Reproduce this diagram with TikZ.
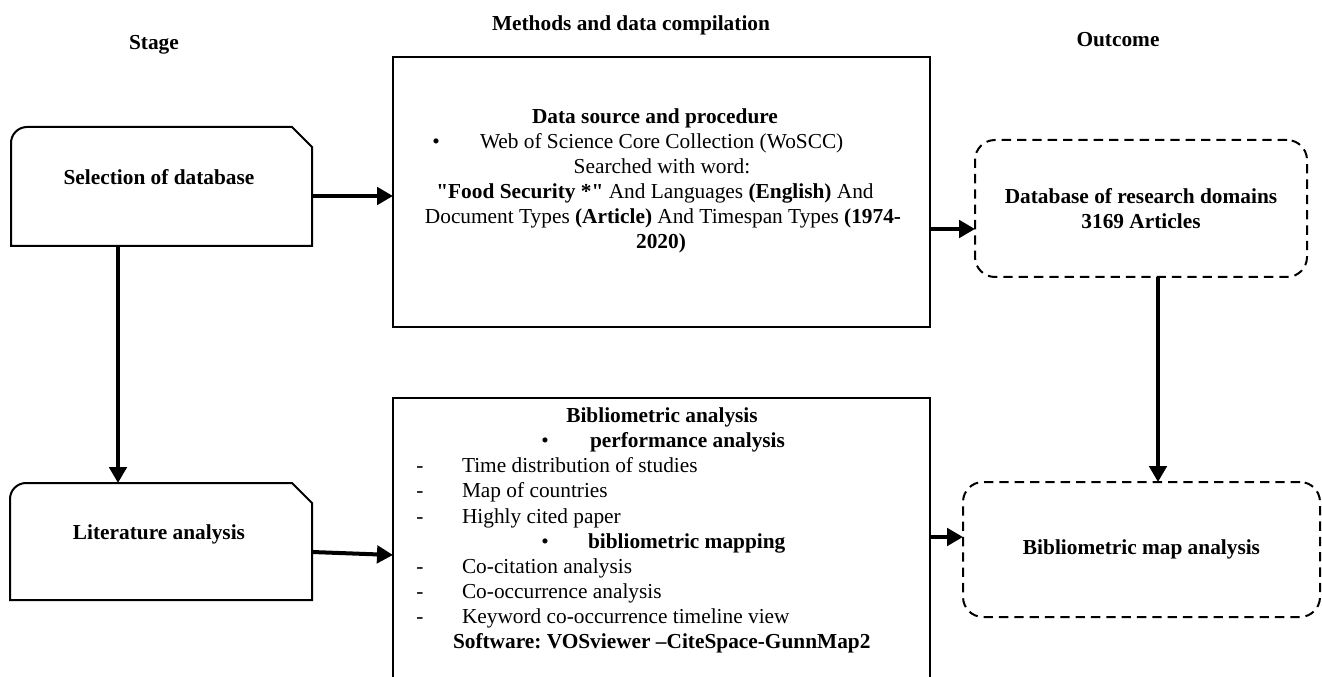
\documentclass[tikz,border=0pt]{standalone}
\usepackage{fontspec}
\setmainfont{Liberation Serif}[Ligatures=TeXOff]
\usetikzlibrary{arrows.meta}
\frenchspacing
\begin{document}
\begin{tikzpicture}[x=0.75pt,y=-0.75pt,
  txt/.style={font=\fontsize{16}{18.75}\selectfont, inner sep=0pt, outer sep=0pt, anchor=base},
  btxt/.style={txt, font=\fontsize{16}{18.75}\selectfont\bfseries},
  ltxt/.style={txt, anchor=base west},
  bltxt/.style={btxt, anchor=base west},
  shapebox/.style={draw=none, inner sep=0pt, outer sep=0pt},
  boxline/.style={line width=1.5pt, line join=miter},
  methbox/.style={draw, line width=1.5pt, inner sep=0pt, outer sep=0pt, minimum width=402.75pt},
  outbox/.style={draw, line width=1.5pt, dash pattern=on 7pt off 4.5pt, rounded corners=15pt, inner sep=0pt, outer sep=0pt},
  arr/.style={line width=3pt, -{Triangle[length=12pt,width=13pt]}}
]
\useasboundingbox (0,0) rectangle (1322,677);
\clip (0,0) rectangle (1322,677);

% headers
\node[btxt] (hstage) at (154,50) {Stage};
\node[btxt] (hmeth) at (631,31) {Methods and data compilation};
\node[btxt] (hout) at (1118,47) {Outcome};

% stage boxes
\node[shapebox, minimum width=225.75pt, minimum height=89.25pt] (sel) at (161.5,186.5) {};
\draw[boxline] (sel.south west) -- ([yshift=-12pt]sel.north west) .. controls ([yshift=-5.4pt]sel.north west) and ([xshift=5.4pt]sel.north west) .. ([xshift=12pt]sel.north west) -- ([xshift=-15pt]sel.north east) -- ([yshift=-15pt]sel.north east) -- (sel.south east) -- cycle;
\node[btxt] (selt) at (159,185) {Selection of database};

\node[shapebox, minimum width=226.5pt, minimum height=87.75pt] (lit) at (161,541.5) {};
\draw[boxline] (lit.south west) -- ([yshift=-12pt]lit.north west) .. controls ([yshift=-5.4pt]lit.north west) and ([xshift=5.4pt]lit.north west) .. ([xshift=12pt]lit.north west) -- ([xshift=-15pt]lit.north east) -- ([yshift=-15pt]lit.north east) -- (lit.south east) -- cycle;
\node[btxt] (litt) at (159,539) {Literature analysis};

% methods boxes
\node[methbox, minimum height=202.5pt] (dsp) at (661.5,192) {};
\node[btxt] (t1) at (655,124) {Data source and procedure};
\node[txt] (t2b) at (436,149) {\textbullet};
\node[ltxt] (t2) at (480,149) {Web of Science Core Collection (WoSCC)};
\node[txt] (t3) at (662,174) {Searched with word:};
\node[txt] (t4) at (655,199) {\textbf{"Food Security *"} And Languages \textbf{(English)} And};
\node[txt] (t5) at (663,224) {Document Types \textbf{(Article)} And Timespan Types \textbf{(1974-}};
\node[btxt] (t6) at (661,249) {2020)};

\node[methbox, minimum height=234pt] (bib) at (661.5,554) {};
\node[btxt] (b1) at (662,423) {Bibliometric analysis};
\node[txt] (b2b) at (545,448) {\textbullet};
\node[bltxt] (b2) at (590,448) {performance analysis};
\node[txt] (b3d) at (420,473) {-};
\node[ltxt] (b3) at (462,473) {Time distribution of studies};
\node[txt] (b4d) at (420,498) {-};
\node[ltxt] (b4) at (462,498) {Map of countries};
\node[txt] (b5d) at (420,523) {-};
\node[ltxt] (b5) at (462,523) {Highly cited paper};
\node[txt] (b6b) at (545,548) {\textbullet};
\node[bltxt] (b6) at (588,548) {bibliometric mapping};
\node[txt] (b7d) at (420,573) {-};
\node[ltxt] (b7) at (462,573) {Co-citation analysis};
\node[txt] (b8d) at (420,598) {-};
\node[ltxt] (b8) at (462,598) {Co-occurrence analysis};
\node[txt] (b9d) at (420,623) {-};
\node[ltxt] (b9) at (462,623) {Keyword co-occurrence timeline view};
\node[bltxt] (b10) at (453,648) {Software: VOSviewer –CiteSpace-GunnMap2};

% outcome boxes
\node[outbox, minimum width=249pt, minimum height=102.75pt, align=center, font=\fontsize{16}{18.75}\selectfont\bfseries] (db) at (1141,208.5) {Database of research domains\\3169 Articles};
\node[outbox, minimum width=267.75pt, minimum height=101.25pt, font=\fontsize{16}{18.75}\selectfont\bfseries] (bm) at (1141.5,549.5) {Bibliometric map analysis};

% connector helper coordinates
\coordinate (ya) at (0,196);
\coordinate (xa) at (118,0);
\coordinate (yb1) at (0,552);
\coordinate (yb2) at (0,555);
\coordinate (yc) at (0,229);
\coordinate (yd) at (0,537);
\coordinate (xe) at (1158,0);

% connectors
\draw[arr] (sel.east |- ya) -- (dsp.west |- ya);
\draw[arr] (sel.south -| xa) -- (lit.north -| xa);
\draw[arr] (lit.east |- yb1) -- (bib.west |- yb2);
\draw[arr] (dsp.east |- yc) -- (db.west |- yc);
\draw[arr] (bib.east |- yd) -- (bm.west |- yd);
\draw[arr] (db.south -| xe) -- (bm.north -| xe);
\end{tikzpicture}
\end{document}
